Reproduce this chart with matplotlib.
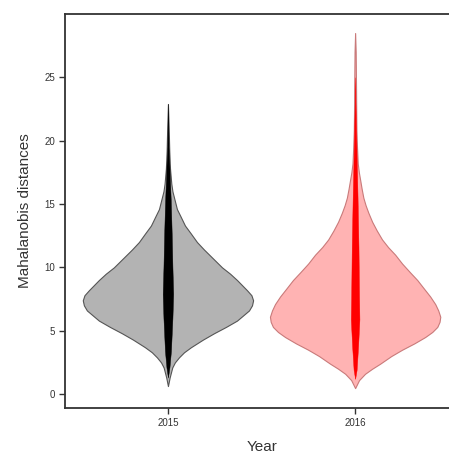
import numpy as np
import matplotlib.pyplot as plt

plt.rcParams['font.family'] = ['Liberation Sans', 'DejaVu Sans']

years = ['2015', '2016']
positions = [1, 2]

# outline of each violin: distance level and half width (in x units)
v2015 = [0.63, 1.3, 2.1, 2.5, 2.9, 3.3, 3.7, 4.3, 4.8, 5.3, 5.8, 6.6, 7.0, 7.4, 7.8,
         8.2, 9.0, 9.5, 10.0, 10.7, 11.4, 12.0, 12.7, 13.3, 14.0, 14.6, 15.3, 16.0,
         16.6, 17.8, 19.2, 21.0, 22.9]
w2015 = [0.0, 0.009, 0.023, 0.037, 0.059, 0.086, 0.123, 0.187, 0.246, 0.310, 0.369,
         0.433, 0.449, 0.455, 0.446, 0.422, 0.369, 0.332, 0.289, 0.241, 0.193, 0.155,
         0.121, 0.091, 0.068, 0.048, 0.036, 0.024, 0.018, 0.011, 0.007, 0.004, 0.0]

v2016 = [0.47, 1.1, 1.6, 2.0, 2.4, 3.0, 3.5, 4.0, 4.5, 4.9, 5.3, 5.7, 6.1, 6.6, 7.1,
         7.7, 8.3, 9.0, 9.6, 10.3, 11.0, 11.6, 12.2, 12.9, 13.6, 14.3, 14.9, 15.5,
         16.2, 16.9, 17.5, 18.2, 19.5, 20.8, 22.0, 24.0, 27.0, 28.5]
w2016 = [0.0, 0.021, 0.053, 0.091, 0.134, 0.193, 0.251, 0.316, 0.374, 0.412, 0.439,
         0.451, 0.455, 0.444, 0.428, 0.401, 0.369, 0.332, 0.294, 0.251, 0.214, 0.176,
         0.144, 0.116, 0.091, 0.071, 0.056, 0.044, 0.035, 0.027, 0.020, 0.014, 0.010,
         0.007, 0.006, 0.005, 0.003, 0.0]

# dense bean lines in the middle
sv2015 = [1.3, 2.1, 3.4, 6.0, 7.9, 10.0, 12.7, 15.3, 18.5, 19.5, 22.9]
sw2015 = [0.0, 0.008, 0.016, 0.024, 0.028, 0.024, 0.020, 0.015, 0.0064, 0.0032, 0.0]

sv2016 = [1.2, 1.9, 3.8, 5.9, 7.7, 11.6, 15.5, 20.8, 23.0, 25.0]
sw2016 = [0.0, 0.008, 0.016, 0.023, 0.021, 0.018, 0.013, 0.005, 0.002, 0.0]

outlines = [(v2015, w2015), (v2016, w2016)]
strips = [(sv2015, sw2015), (sv2016, sw2016)]
fills = ['#b3b3b3', '#ffb3b3']
edges = ['#555555', '#c97a7a']
strip_colors = ['#000000', '#ff0000']

fig = plt.figure(figsize=(4.49, 4.53), dpi=100)
ax = fig.add_axes([65 / 449, 45 / 453, 394 / 449, 394 / 453])

for pos, (v, w), (sv, sw), fc, ec, sc in zip(positions, outlines, strips,
                                              fills, edges, strip_colors):
    v = np.array(v)
    w = np.array(w)
    ax.fill_betweenx(v, pos - w, pos + w, facecolor=fc, edgecolor=ec, linewidth=0.8)
    sv = np.array(sv)
    sw = np.array(sw)
    ax.fill_betweenx(sv, pos - sw, pos + sw, facecolor=sc, edgecolor=sc, linewidth=0.3)

ax.set_xlim(0.45, 2.555)
ax.set_ylim(-1.1, 30)
ax.set_xticks(positions)
ax.set_xticklabels(years)
ax.set_yticks([0, 5, 10, 15, 20, 25])
ax.tick_params(axis='both', labelsize=7, length=4, width=1, color='#333333',
               labelcolor='#333333', pad=3)
ax.set_xlabel('Year', fontsize=11, color='#333333', labelpad=9)
ax.set_ylabel('Mahalanobis distances', fontsize=11, color='#333333', labelpad=9)

for s in ax.spines.values():
    s.set_linewidth(1.3)
    s.set_color('#333333')

fig.savefig('out.png', dpi=100)
